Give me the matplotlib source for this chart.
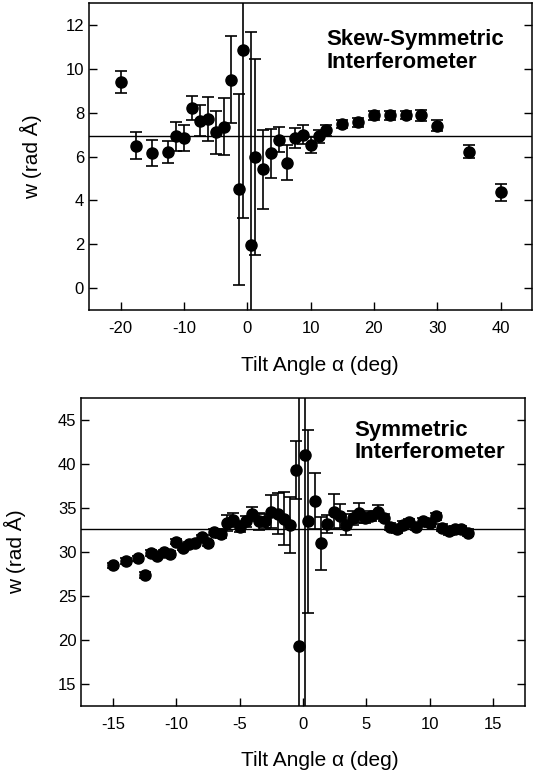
import matplotlib
matplotlib.use('Agg')
import matplotlib.pyplot as plt

plt.rcParams['font.family'] = ['Liberation Sans', 'DejaVu Sans']
plt.rcParams['axes.unicode_minus'] = False

# Skew-symmetric interferometer (top panel)
skew_tilt = [-20, -17.5, -15, -12.5, -11.25, -10, -8.75, -7.5, -6.25, -5, -3.75,
             -2.5, -1.25, -0.625, 0.625, 1.25, 2.5, 3.75, 5, 6.25, 7.5, 8.75,
             10, 11.25, 12.5, 15, 17.5, 20, 22.5, 25, 27.5, 30, 35, 40]
skew_w = [9.42, 6.5, 6.17, 6.2, 6.92, 6.85, 8.22, 7.64, 7.73, 7.1, 7.37,
          9.51, 4.5, 10.87, 1.96, 5.98, 5.41, 6.14, 6.77, 5.71, 6.85, 7.0,
          6.53, 6.92, 7.2, 7.49, 7.56, 7.88, 7.88, 7.9, 7.88, 7.41, 6.23, 4.37]
skew_err = [0.5, 0.6, 0.6, 0.5, 0.65, 0.6, 0.55, 0.7, 1.0, 1.0, 1.3,
            2.0, 4.35, 7.67, 9.7, 4.45, 1.8, 1.1, 0.57, 0.8, 0.45, 0.45,
            0.38, 0.3, 0.25, 0.2, 0.2, 0.2, 0.2, 0.2, 0.25, 0.25, 0.3, 0.4]
skew_mean = 6.93

# Symmetric interferometer (bottom panel)
sym_tilt = [-15, -14, -13, -12.5, -12, -11.5, -11, -10.5, -10, -9.5, -9, -8.5,
            -8, -7.5, -7, -6.5, -6, -5.5, -5, -4.5, -4, -3.5, -3, -2.5, -2,
            -1.5, -1, -0.6, -0.3, 0.15, 0.4, 0.9, 1.4, 1.9, 2.4, 2.9, 3.4,
            3.9, 4.4, 4.9, 5.4, 5.9, 6.4, 6.9, 7.4, 7.9, 8.4, 8.9, 9.5, 10,
            10.5, 11, 11.5, 12, 12.5, 13]
sym_w = [28.5, 29.0, 29.3, 27.4, 29.9, 29.6, 30.0, 29.8, 31.2, 30.5, 30.9, 31.1,
         31.7, 31.0, 32.3, 32.1, 33.3, 33.7, 32.9, 33.5, 34.3, 33.5, 33.5, 34.6, 34.4,
         33.8, 33.1, 39.4, 19.3, 41.0, 33.5, 35.8, 31.0, 33.2, 34.6, 34.1, 33.1,
         33.9, 34.45, 33.9, 34.1, 34.6, 33.9, 32.9, 32.6, 33.1, 33.4, 32.9, 33.5, 33.3,
         34.1, 32.8, 32.4, 32.6, 32.6, 32.2]
sym_err = [0.3, 0.3, 0.3, 0.3, 0.3, 0.3, 0.3, 0.3, 0.3, 0.3, 0.3, 0.3,
           0.3, 0.3, 0.3, 0.5, 0.9, 0.8, 0.6, 0.6, 0.8, 1.0, 0.8, 1.9, 2.3,
           3.0, 3.2, 3.3, 30.0, 30.0, 10.4, 3.2, 3.0, 1.0, 2.0, 1.4, 1.2,
           0.8, 1.1, 0.6, 0.6, 0.8, 0.4, 0.4, 0.4, 0.4, 0.4, 0.4, 0.4, 0.4,
           0.4, 0.4, 0.4, 0.4, 0.4, 0.4]
sym_mean = 32.6


def style_axes(ax):
    ax.tick_params(direction='in', length=6, width=1, labelsize=12,
                   left=True, right=True, bottom=True, top=False)
    ax.tick_params(axis='x', pad=8)
    for s in ax.spines.values():
        s.set_linewidth(1.1)


fig = plt.figure(figsize=(5.36, 7.75), dpi=100)

# ---- top panel ----
ax1 = fig.add_axes([0.166, 0.600, 0.827, 0.396])
ax1.axhline(skew_mean, color='black', lw=1)
ax1.errorbar(skew_tilt, skew_w, yerr=skew_err, fmt='o', color='black',
             ms=8, elinewidth=1.2, capsize=4, capthick=1.2)
ax1.set_xlim(-25, 45)
ax1.set_ylim(-1, 13)
ax1.set_xticks([-20, -10, 0, 10, 20, 30, 40])
ax1.set_yticks([0, 2, 4, 6, 8, 10, 12])
style_axes(ax1)
ax1.set_xlabel('Tilt Angle \u03b1 (deg)', fontsize=15)
ax1.set_ylabel('w (rad \u00c5)', fontsize=15)
ax1.xaxis.set_label_coords(0.52, -0.15)
ax1.yaxis.set_label_coords(-0.106, 0.5)
ax1.text(0.535, 0.915, 'Skew-Symmetric\nInterferometer', transform=ax1.transAxes,
         fontsize=16, fontweight='bold', va='top', ha='left', linespacing=1.1)

# ---- bottom panel ----
ax2 = fig.add_axes([0.152, 0.089, 0.827, 0.397])
ax2.axhline(sym_mean, color='black', lw=1)
ax2.errorbar(sym_tilt, sym_w, yerr=sym_err, fmt='o', color='black',
             ms=8, elinewidth=1.2, capsize=4, capthick=1.2)
ax2.set_xlim(-17.5, 17.5)
ax2.set_ylim(12.5, 47.5)
ax2.set_xticks([-15, -10, -5, 0, 5, 10, 15])
ax2.set_yticks([15, 20, 25, 30, 35, 40, 45])
style_axes(ax2)
ax2.set_xlabel('Tilt Angle \u03b1 (deg)', fontsize=15)
ax2.set_ylabel('w (rad \u00c5)', fontsize=15)
ax2.xaxis.set_label_coords(0.537, -0.145)
ax2.yaxis.set_label_coords(-0.126, 0.5)
ax2.text(0.615, 0.93, 'Symmetric\nInterferometer', transform=ax2.transAxes,
         fontsize=16, fontweight='bold', va='top', ha='left', linespacing=1.1)

fig.savefig('out.png', dpi=100)
